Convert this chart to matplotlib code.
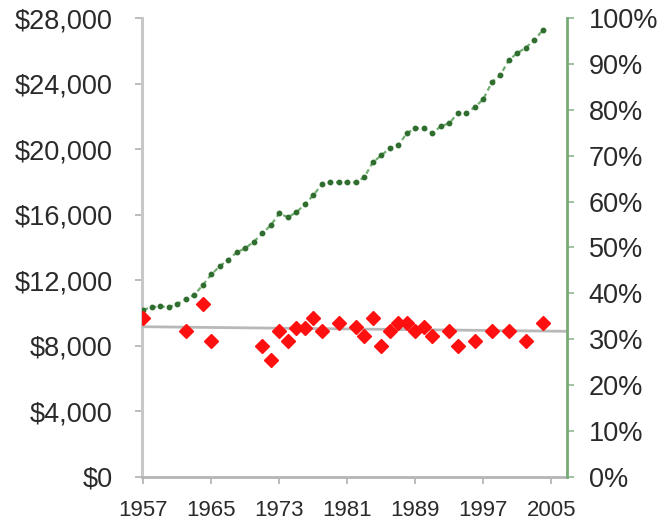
import matplotlib
matplotlib.use("Agg")
import matplotlib.pyplot as plt

# ---- data ----
green_years = list(range(1957, 2005))
green_values = [10200, 10350, 10400, 10350, 10550, 10850, 11100, 11700, 12350, 12850,
                13250, 13700, 13950, 14350, 14850, 15350, 16080, 15830, 16140, 16630,
                17180, 17850, 17970, 17970, 17970, 17970, 18280, 19190, 19620, 20050,
                20230, 20970, 21270, 21270, 20970, 21390, 21580, 22190, 22190, 22560,
                23040, 24080, 24510, 25430, 25860, 26190, 26650, 27260]

red_years = [1957, 1962, 1964, 1965, 1971, 1972, 1973, 1974, 1975, 1976, 1977, 1978,
             1980, 1982, 1983, 1984, 1985, 1986, 1987, 1988, 1989, 1990, 1991, 1993,
             1994, 1996, 1998, 2000, 2002, 2004]
red_pct = [34.5, 31.8, 37.6, 29.6, 28.5, 25.4, 31.8, 29.6, 32.4, 32.4, 34.7, 31.8,
           33.6, 32.6, 30.7, 34.6, 28.5, 31.8, 33.6, 33.6, 31.7, 32.6, 30.7, 31.8,
           28.5, 29.6, 31.8, 31.8, 29.6, 33.6]

trend_years = [1957, 2007]
trend_pct = [32.7, 31.7]

x_ticks = [1957, 1965, 1973, 1981, 1989, 1997, 2005]
left_ticks = [0, 4000, 8000, 12000, 16000, 20000, 24000, 28000]
right_ticks = [0, 10, 20, 30, 40, 50, 60, 70, 80, 90, 100]

plt.rcParams['font.family'] = ['Liberation Sans', 'DejaVu Sans']

fig = plt.figure(figsize=(6.65, 5.27), dpi=100)
ax = fig.add_axes([0.213, 0.0954, 0.639, 0.8704])
ax2 = ax.twinx()

# left axis (dollars) - green line
ax.plot(green_years, green_values, linestyle=(0, (2.2, 1.6)), color='#72ae72', lw=1.6,
        marker='o', markersize=3.2, markerfacecolor='#2f6e2f', markeredgecolor='#2f6e2f',
        zorder=3)
ax.set_xlim(1956.8, 2006.8)
ax.set_ylim(0, 28000)
ax.set_xticks(x_ticks)
ax.set_yticks(left_ticks)
ax.set_yticklabels(['${:,}'.format(v) for v in left_ticks])

# right axis (percent) - red points and trend
ax2.plot(trend_years, trend_pct, color='#b8b8b8', lw=2, zorder=1)
ax2.plot(red_years, red_pct, linestyle='none', marker='D', markersize=7.2,
         color='#ff1010', markeredgecolor='#ff1010', zorder=2)
ax2.set_ylim(0, 100)
ax2.set_yticks(right_ticks)
ax2.set_yticklabels(['{}%'.format(v) for v in right_ticks])

# spines
for s in ['top', 'right']:
    ax.spines[s].set_visible(False)
for s in ['top', 'left', 'bottom']:
    ax2.spines[s].set_visible(False)
ax.spines['left'].set_color('#c8c8c8')
ax.spines['left'].set_linewidth(2.2)
ax.spines['bottom'].set_color('#b4b4b4')
ax.spines['bottom'].set_linewidth(2)
ax2.spines['right'].set_color('#78aa78')
ax2.spines['right'].set_linewidth(2)

ax.tick_params(axis='y', length=5, width=1.2, color='#b0b0b0', pad=16,
               labelsize=19.5, labelcolor='#2a2a2a')
ax.tick_params(axis='x', length=5, width=1.2, color='#b0b0b0', pad=12,
               labelsize=16, labelcolor='#2a2a2a')
ax2.tick_params(axis='y', length=5, width=1.2, color='#8fb88f', pad=11,
                labelsize=19.5, labelcolor='#2a2a2a')

fig.savefig('out.png', dpi=100)
